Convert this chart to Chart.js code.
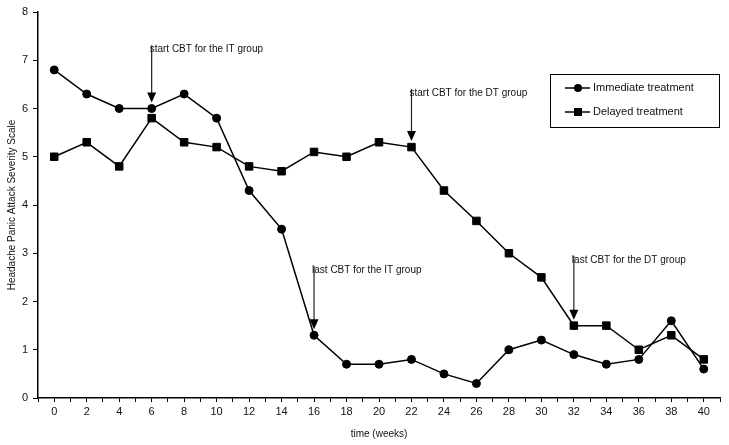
<!DOCTYPE html>
<html><head><meta charset="utf-8">
<script src="https://cdn.jsdelivr.net/npm/chart.js@4.4.1/dist/chart.umd.min.js"></script>
<style>html,body{margin:0;padding:0;background:#fff}#wrap{width:729px;height:445px}</style>
</head><body><div id="wrap"><canvas id="c" width="729" height="445"></canvas></div>
<script>
// ---- data ----
const weeks = [0,2,4,6,8,10,12,14,16,18,20,22,24,26,28,30,32,34,36,38,40];
const immediate = [6.8,6.3,6.0,6.0,6.3,5.8,4.3,3.5,1.3,0.7,0.7,0.8,0.5,0.3,1.0,1.2,0.9,0.7,0.8,1.6,0.6];
const delayed   = [5.0,5.3,4.8,5.8,5.3,5.2,4.8,4.7,5.1,5.0,5.3,5.2,4.3,3.67,3.0,2.5,1.5,1.5,1.0,1.3,0.8];
const seriesLabels = ['Immediate treatment','Delayed treatment'];
const xTitle = 'time (weeks)';
const yTitle = 'Headache Panic Attack Severity Scale';
const annoWeeks = [6,22,16,32];
const annoSeries = [0,1,0,1];
const annoLabels = ['start CBT for the IT group','start CBT for the DT group','last CBT for the IT group','last CBT for the DT group'];
const annoTextValues = [7.25,6.34,2.67,2.88];

const FONT = 'Liberation Sans, Arial, sans-serif';
const seriesValues = [immediate, delayed];

const whiteBg = {
  id:'whiteBg',
  beforeDraw(chart){const c=chart.ctx;c.save();c.fillStyle='#fff';c.fillRect(0,0,chart.width,chart.height);c.restore();}
};

const annotations = {
  id:'annotations',
  afterDatasetsDraw(chart){
    const ctx=chart.ctx, xs=chart.scales.x, ys=chart.scales.y;
    ctx.save();
    ctx.font='10px '+FONT;
    ctx.textBaseline='middle';
    ctx.textAlign='left';
    for(let i=0;i<annoWeeks.length;i++){
      const w=annoWeeks[i];
      const idx=weeks.indexOf(w);
      const v=seriesValues[annoSeries[i]][idx];
      const x=xs.getPixelForValue(w);
      const py=ys.getPixelForValue(v);
      const ty=ys.getPixelForValue(annoTextValues[i]);
      const tip=py-6;
      const headH=10, headW=4.5;
      ctx.strokeStyle='#222';ctx.lineWidth=1.2;
      ctx.beginPath();ctx.moveTo(x,ty-3);ctx.lineTo(x,tip-headH+1);ctx.stroke();
      ctx.fillStyle='#000';
      ctx.beginPath();ctx.moveTo(x-headW,tip-headH);ctx.lineTo(x+headW,tip-headH);ctx.lineTo(x,tip);ctx.closePath();ctx.fill();
      ctx.fillStyle='#111';
      ctx.fillText(annoLabels[i],x-2,ty+1);
    }
    ctx.restore();
  }
};

const customLegend = {
  id:'customLegend',
  afterDraw(chart){
    const ctx=chart.ctx;
    ctx.save();
    const bx=550, by=74, bw=169, bh=53;
    ctx.strokeStyle='#000';ctx.lineWidth=1;
    ctx.strokeRect(bx+0.5,by+0.5,bw,bh);
    ctx.font='11px '+FONT;ctx.textBaseline='middle';ctx.textAlign='left';
    const rows=[88,112];
    chart.data.datasets.forEach((ds,i)=>{
      const y=rows[i];
      ctx.strokeStyle='#000';ctx.lineWidth=1.5;
      ctx.beginPath();ctx.moveTo(565,y);ctx.lineTo(590,y);ctx.stroke();
      ctx.fillStyle='#000';
      if(ds.pointStyle==='circle'){ctx.beginPath();ctx.arc(578,y,4,0,Math.PI*2);ctx.fill();}
      else{ctx.fillRect(574,y-4,8,8);}
      ctx.fillStyle='#111';
      ctx.fillText(ds.label,593,y);
    });
    ctx.restore();
  }
};

new Chart(document.getElementById('c'),{
  type:'line',
  data:{
    datasets:[
      {label:seriesLabels[0],data:weeks.map((w,i)=>({x:w,y:immediate[i]})),borderColor:'#000',backgroundColor:'#000',borderWidth:1.5,
       pointStyle:'circle',pointRadius:4,pointBackgroundColor:'#000',pointBorderColor:'#000',pointBorderWidth:1,tension:0},
      {label:seriesLabels[1],data:weeks.map((w,i)=>({x:w,y:delayed[i]})),borderColor:'#000',backgroundColor:'#000',borderWidth:1.5,
       pointStyle:'rect',pointRadius:5.3,pointBackgroundColor:'#000',pointBorderColor:'#000',pointBorderWidth:1,tension:0}
    ]
  },
  options:{
    responsive:false,animation:false,devicePixelRatio:1,
    layout:{padding:{left:0,right:9,top:12,bottom:0}},
    plugins:{legend:{display:false},tooltip:{enabled:false}},
    scales:{
      x:{type:'linear',min:-1,max:41,
        afterFit(s){s.height=47;},
        ticks:{stepSize:1,autoSkip:false,maxRotation:0,maxTicksLimit:100,padding:3,color:'#111',font:{family:FONT,size:11},
          callback:(v)=>weeks.includes(v)?String(v):''},
        grid:{drawOnChartArea:false,drawTicks:true,tickLength:4,color:'#000',lineWidth:1},
        border:{display:true,color:'#000',width:1.5},
        title:{display:true,text:xTitle,color:'#111',font:{family:FONT,size:10},padding:{top:0,bottom:5}}
      },
      y:{min:0,max:8,
        afterFit(s){s.width=38;},
        ticks:{stepSize:1,padding:5,color:'#111',font:{family:FONT,size:11}},
        grid:{drawOnChartArea:false,drawTicks:true,tickLength:5,color:'#000',lineWidth:1},
        border:{display:true,color:'#000',width:1.5},
        title:{display:true,text:yTitle,color:'#111',font:{family:FONT,size:10},padding:{top:6,bottom:0}}
      }
    }
  },
  plugins:[whiteBg,annotations,customLegend]
});
</script></body></html>
